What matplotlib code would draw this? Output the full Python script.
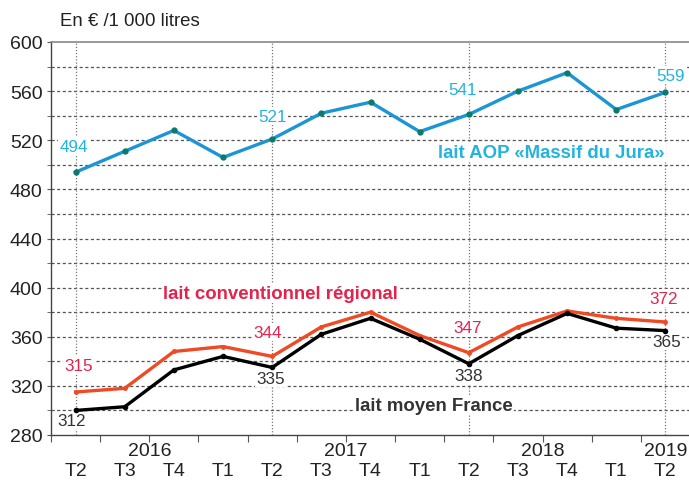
import matplotlib
matplotlib.use("Agg")
import matplotlib.pyplot as plt
from matplotlib.ticker import MultipleLocator, FixedLocator
from matplotlib.transforms import blended_transform_factory

plt.rcParams["font.family"] = ["Liberation Sans", "DejaVu Sans"]

quarters = ["T2", "T3", "T4", "T1", "T2", "T3", "T4", "T1", "T2", "T3", "T4", "T1", "T2"]
years = ["2016", "2017", "2018", "2019"]
year_pos = [1.5, 5.5, 9.5, 12]

aop = [494, 511, 528, 506, 521, 542, 551, 527, 541, 560, 575, 545, 559]
conv = [315, 318, 348, 352, 344, 368, 380, 361, 347, 368, 381, 375, 372]
france = [300, 303, 333, 344, 335, 362, 375, 358, 338, 361, 379, 367, 365]

# labelled points: (index, text, dx px, dy px)
aop_labels = [(0, "494", -2, 26), (4, "521", 0, 23), (8, "541", -6, 25), (12, "559", 5, 17)]
conv_labels = [(0, "315", 3, 27), (4, "344", -5, 24), (8, "347", -1, 25), (12, "372", -2, 24)]
france_labels = [(0, "312", -4, -10), (4, "335", -2, -11), (8, "338", 0, -12), (12, "365", 1, -11)]

BLUE, CYAN, TEAL = "#1b95d3", "#22b3e0", "#0a7a6a"
RED, RED_TXT = "#f04a24", "#e5224b"
BLACK, BLACK_TXT = "#000000", "#333333"

fig = plt.figure(figsize=(6.89, 4.81), dpi=100)
ax = fig.add_axes([51 / 689, 45 / 481, 639 / 689, 393 / 481])
x = list(range(len(quarters)))

ax.plot(x, aop, color=BLUE, lw=2.4, marker="o", ms=3.5, mfc=TEAL, mec=TEAL, zorder=4)
ax.plot(x, conv, color=RED, lw=2.4, marker="o", ms=2.5, mfc=RED, mec=RED, zorder=4)
ax.plot(x, france, color=BLACK, lw=2.4, marker="o", ms=3, mfc=BLACK, mec=BLACK, zorder=5)

ax.set_xlim(-0.5, 12.5)
ax.set_ylim(280, 600)
ax.yaxis.set_major_locator(MultipleLocator(40))
ax.yaxis.set_minor_locator(MultipleLocator(20))
ax.tick_params(axis="y", which="both", direction="out", length=3, color="#555555",
               labelsize=14, labelcolor="#222222", pad=3)

for v in range(300, 600, 20):
    ax.axhline(v, color="#555555", lw=0.9, ls=(0, (2.5, 2)), zorder=1)
for i in (0, 4, 8, 12):
    ax.axvline(i, color="#777777", lw=0.9, ls=(0, (1, 1.5)), zorder=1)

ax.xaxis.set_major_locator(FixedLocator([i - 0.5 for i in range(len(quarters) + 1)]))
ax.xaxis.set_minor_locator(FixedLocator(x))
ax.set_xticklabels([])
ax.set_xticklabels(quarters, minor=True)
ax.tick_params(axis="x", which="major", direction="out", length=5, color="#555555")
ax.tick_params(axis="x", which="minor", length=0, pad=19.5, labelsize=14, labelcolor="#222222")

trans = blended_transform_factory(ax.transData, ax.transAxes)
for yr, p in zip(years, year_pos):
    ax.text(p, -0.018, yr, transform=trans, ha="center", va="top", fontsize=14, color="#222222")

for s in ("left", "bottom"):
    ax.spines[s].set_color("#444444")
    ax.spines[s].set_linewidth(1.0)
ax.spines["top"].set_color("#888888")
ax.spines["top"].set_linewidth(1.2)
ax.spines["right"].set_visible(False)

box = dict(fc="white", ec="none", pad=1.0)
for vals, labs, col in ((aop, aop_labels, CYAN), (conv, conv_labels, RED_TXT),
                        (france, france_labels, BLACK_TXT)):
    for i, t, dx, dy in labs:
        ax.annotate(t, (i, vals[i]), xytext=(dx, dy), textcoords="offset pixels",
                    ha="center", va="center", fontsize=12.3, color=col, bbox=box, zorder=3)

ax.text(0.961, 0.72, "lait AOP «Massif du Jura»", transform=ax.transAxes, ha="right",
        va="center", fontsize=13.4, fontweight="bold", color=CYAN, bbox=box, zorder=3)
ax.text(0.175, 0.361, "lait conventionnel régional", transform=ax.transAxes, ha="left",
        va="center", fontsize=13.4, fontweight="bold", color=RED_TXT, bbox=box, zorder=3)
ax.text(0.476, 0.076, "lait moyen France", transform=ax.transAxes, ha="left",
        va="center", fontsize=13.4, fontweight="bold", color=BLACK_TXT, bbox=box, zorder=3)

fig.text(60 / 689, 1 - 21 / 481, "En € /1 000 litres", ha="left", va="center",
         fontsize=13.4, color="#222222")

fig.savefig("out.png", dpi=100)
